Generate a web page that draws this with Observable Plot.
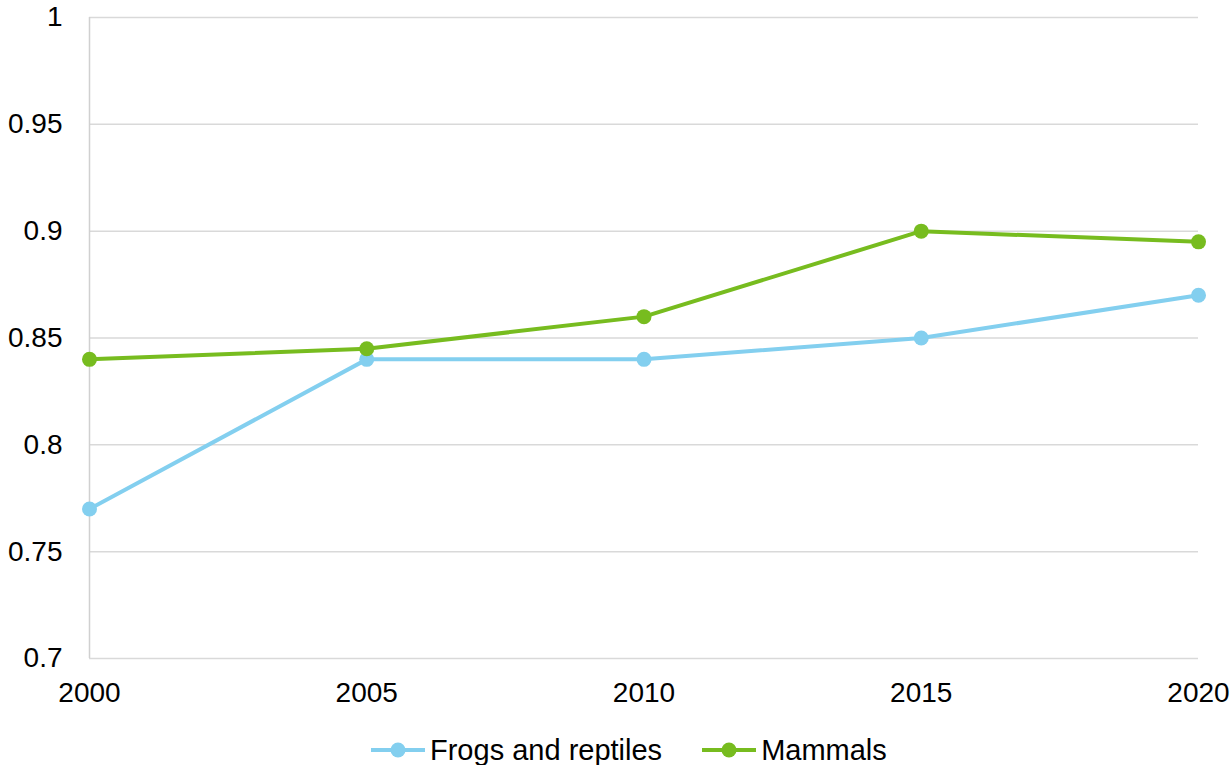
<!DOCTYPE html>
<html>
<head>
<meta charset="utf-8">
<script src="https://cdn.jsdelivr.net/npm/d3@7"></script>
<script src="https://cdn.jsdelivr.net/npm/@observablehq/plot@0.6"></script>
<style>
  body { margin: 0; background: #fff; font-family: "Liberation Sans", Arial, sans-serif; }
  #wrap { width: 1230px; position: relative; }
  #legend { display: flex; align-items: center; height: 30px; margin-top: 20px; padding-left: 371px; font-size: 29px; color: #000; }
  .item { display: flex; align-items: center; }
  .item span { margin-left: 5px; line-height: 30px; }
  .item + .item { margin-left: 40px; }
</style>
</head>
<body>
<div id="wrap"></div>
<script>
const years = [2000, 2005, 2010, 2015, 2020];
const frogs = [0.77, 0.84, 0.84, 0.85, 0.87];
const mammals = [0.84, 0.845, 0.86, 0.90, 0.895];
const yTicks = [0.7, 0.75, 0.8, 0.85, 0.9, 0.95, 1];
const seriesNames = ["Frogs and reptiles", "Mammals"];
const seriesColors = ["#83CFEF", "#77BC1F"];

const data = [];
years.forEach((yr, i) => data.push({year: yr, value: frogs[i], series: seriesNames[0]}));
years.forEach((yr, i) => data.push({year: yr, value: mammals[i], series: seriesNames[1]}));

const chart = Plot.plot({
  width: 1230,
  height: 715,
  marginLeft: 89,
  marginRight: 32,
  marginTop: 17,
  marginBottom: 57,
  style: {fontSize: "28px", fontFamily: "'Liberation Sans', Arial, sans-serif", color: "#000", background: "#fff", overflow: "visible"},
  x: {domain: [2000, 2020], ticks: years, tickFormat: d => String(d), label: null},
  y: {domain: [0.7, 1], ticks: yTicks, tickFormat: d => String(+d.toFixed(2)), label: null},
  color: {domain: seriesNames, range: seriesColors},
  marks: [
    Plot.ruleY(yTicks, {stroke: "#d9d9d9", strokeWidth: 1.5}),
    Plot.ruleX([2000], {stroke: "#d0d0d0", strokeWidth: 1.5}),
    Plot.axisX({ticks: years, tickSize: 0, tickPadding: 24, tickFormat: d => String(d), fontSize: 28, label: null}),
    Plot.axisY({ticks: yTicks, tickSize: 0, tickPadding: 27, tickFormat: d => String(+d.toFixed(2)), fontSize: 28, label: null}),
    Plot.line(data, {x: "year", y: "value", z: "series", stroke: "series", strokeWidth: 4}),
    Plot.dot(data, {x: "year", y: "value", fill: "series", r: 7.5, stroke: "none"})
  ]
});
document.getElementById("wrap").appendChild(chart);

const legend = document.createElement("div");
legend.id = "legend";
seriesNames.forEach((name, i) => {
  const item = document.createElement("div");
  item.className = "item";
  item.innerHTML = `<svg width="54" height="16"><line x1="0" x2="54" y1="8" y2="8" stroke="${seriesColors[i]}" stroke-width="4"/><circle cx="27" cy="8" r="7.5" fill="${seriesColors[i]}"/></svg><span>${name}</span>`;
  legend.appendChild(item);
});
document.getElementById("wrap").appendChild(legend);
</script>
</body>
</html>
